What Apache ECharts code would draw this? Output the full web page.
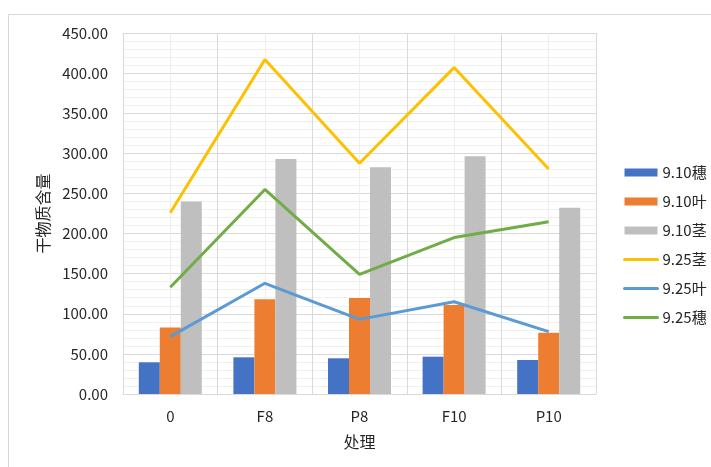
<!DOCTYPE html>
<html>
<head>
<meta charset="utf-8">
<script src="https://cdn.jsdelivr.net/npm/echarts@6/dist/echarts.min.js"></script>
<style>html,body{margin:0;padding:0;background:#fff}#c{width:711px;height:467px}</style>
</head>
<body>
<div id="c"></div>
<script>
var categories = ['0', 'F8', 'P8', 'F10', 'P10'];
var s910sui = [39.5, 45.7, 44.5, 46.5, 42.4];
var s910ye = [83, 118, 119.7, 111, 76.4];
var s910jing = [240, 293, 282.6, 296.3, 232.3];
var s925jing = [226, 417, 287.6, 406.9, 280.5];
var s925ye = [71.5, 138, 93, 115, 77.7];
var s925sui = [133, 255, 149, 195, 214.8];
var yTicks = [0, 50, 100, 150, 200, 250, 300, 350, 400, 450];

var FONT = '"Noto Sans CJK SC", "Open Sans", sans-serif';
var chart = echarts.init(document.getElementById('c'));
var grid = {left: 123, right: 115, top: 33, bottom: 73};
var hideSym = {color: 'rgba(0,0,0,0)', borderWidth: 0, opacity: 0};
chart.setOption({
  animation: false,
  textStyle: {fontFamily: FONT},
  graphic: [{
    type: 'rect', shape: {x: 8.5, y: 14.5, width: 720, height: 470},
    style: {fill: 'none', stroke: '#d9d9d9', lineWidth: 1}, silent: true, z: -10
  }],
  grid: grid,
  legend: {
    orient: 'vertical', left: 618, top: 160, itemWidth: 33, itemHeight: 8, itemGap: 14,
    textStyle: {fontSize: 15, color: '#262626', fontFamily: FONT},
    data: [
      {name: '9.10穗', icon: 'rect'}, {name: '9.10叶', icon: 'rect'}, {name: '9.10茎', icon: 'rect'},
      {name: '9.25茎', itemStyle: hideSym, lineStyle: {width: 3, cap: 'round'}},
      {name: '9.25叶', itemStyle: hideSym, lineStyle: {width: 3, cap: 'round'}},
      {name: '9.25穗', itemStyle: hideSym, lineStyle: {width: 3, cap: 'round'}}
    ]
  },
  xAxis: [{
    type: 'category', data: categories,
    name: '处理', nameLocation: 'middle', nameGap: 40,
    nameTextStyle: {fontSize: 16, color: '#262626'},
    axisLine: {lineStyle: {color: '#d9d9d9'}},
    axisTick: {show: false},
    axisLabel: {fontSize: 15, color: '#262626', margin: 15},
    splitLine: {show: true, lineStyle: {color: '#d9d9d9'}}
  }, {
    type: 'value', min: 0, max: 5, interval: 1, position: 'bottom',
    axisLine: {show: false}, axisTick: {show: false}, axisLabel: {show: false},
    splitLine: {show: false},
    minorTick: {show: false, splitNumber: 2},
    minorSplitLine: {show: true, lineStyle: {color: '#efefef'}}
  }],
  yAxis: {
    type: 'value', min: yTicks[0], max: yTicks[yTicks.length - 1], interval: 50,
    name: '干物质含量', nameLocation: 'middle', nameGap: 66,
    nameTextStyle: {fontSize: 16, color: '#262626'},
    axisLine: {show: false}, axisTick: {show: false},
    axisLabel: {fontSize: 15, color: '#262626', margin: 15, formatter: function (v) { return v.toFixed(2); }},
    splitLine: {lineStyle: {color: '#d9d9d9'}},
    minorTick: {show: false, splitNumber: 5},
    minorSplitLine: {show: true, lineStyle: {color: '#f0f0f0'}}
  },
  series: [
    {name: '9.10穗', type: 'bar', data: s910sui, barWidth: 21, barGap: '0%', itemStyle: {color: '#4472C4'}},
    {name: '9.10叶', type: 'bar', data: s910ye, barWidth: 21, barGap: '0%', itemStyle: {color: '#ED7D31'}},
    {name: '9.10茎', type: 'bar', data: s910jing, barWidth: 21, barGap: '0%', itemStyle: {color: '#BFBFBF'}},
    {name: '9.25茎', type: 'line', data: s925jing, symbol: 'none', lineStyle: {width: 3, color: '#FFC000'}, itemStyle: {color: '#FFC000'}},
    {name: '9.25叶', type: 'line', data: s925ye, symbol: 'none', lineStyle: {width: 3, color: '#5B9BD5'}, itemStyle: {color: '#5B9BD5'}},
    {name: '9.25穗', type: 'line', data: s925sui, symbol: 'none', lineStyle: {width: 3, color: '#70AD47'}, itemStyle: {color: '#70AD47'}}
  ]
});
</script>
</body>
</html>
